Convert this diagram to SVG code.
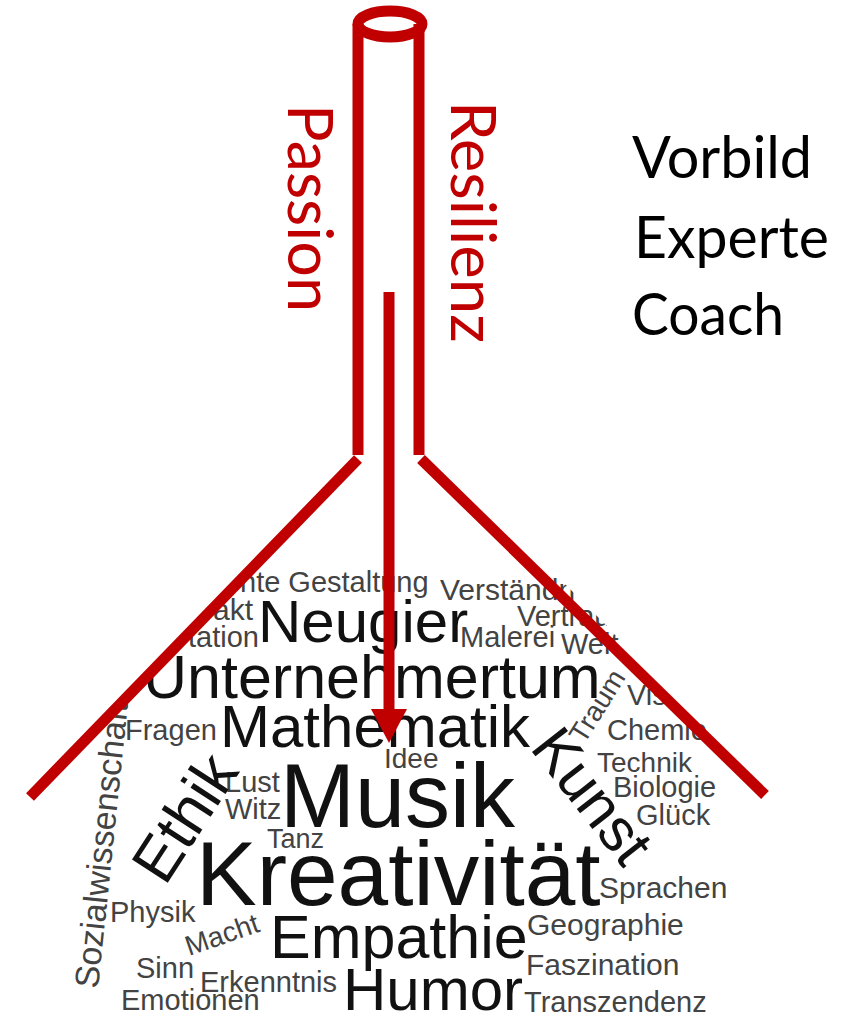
<svg xmlns="http://www.w3.org/2000/svg" width="851" height="1018" viewBox="0 0 851 1018">
<style>
  .red{stroke:#C00000;stroke-width:11;fill:none;stroke-linecap:butt}
  .lbl{font-family:Lato,'Open Sans',sans-serif;fill:#C00000;font-size:62px}
  .role{font-family:Lato,'Open Sans',sans-serif;fill:#000;font-size:58px}
  .g{font-family:'Liberation Sans',Arial,sans-serif;fill:#434343}
  .b{font-family:'Liberation Sans',Arial,sans-serif;fill:#111}
</style>
<defs>
  <clipPath id="cloudclip">
    <polygon points="364,455 436,455 781,800 851,800 851,1018 0,1018 0,800 36,800"/>
  </clipPath>
  <marker id="ah" markerUnits="userSpaceOnUse" viewBox="0 0 34 36" markerWidth="34" markerHeight="36" refX="2" refY="18" orient="auto">
    <path d="M0,0 L34,18 L0,36 Z" fill="#C00000"/>
  </marker>
</defs>
<rect width="851" height="1018" fill="#fff"/>

<g id="wordcloud" clip-path="url(#cloudclip)" font-size="29">
  <text class="g" x="240" y="592">nte Gestaltung</text>
  <text class="g" x="440" y="600" font-size="30">Verständn</text>
  <text class="g" x="213" y="620" font-size="30">akt</text>
  <text class="g" x="188" y="647">tation</text>
  <text class="g" x="517" y="626">Vertrau</text>
  <text class="g" x="460" y="647">Malerei</text>
  <text class="g" x="561" y="654">Welt</text>
  <text class="g" x="627" y="705">Vis</text>
  <text class="g" x="125" y="740">Fragen</text>
  <text class="g" x="607" y="740">Chemie</text>
  <text class="g" x="384" y="768" font-size="28">Idee</text>
  <text class="g" x="597" y="772" font-size="28">Technik</text>
  <text class="g" x="225" y="792">Lust</text>
  <text class="g" x="613" y="797">Biologie</text>
  <text class="g" x="225" y="819">Witz</text>
  <text class="g" x="636" y="825">Glück</text>
  <text class="g" x="267" y="848" font-size="27">Tanz</text>
  <text class="g" x="599" y="898" font-size="30">Sprachen</text>
  <text class="g" x="110" y="922">Physik</text>
  <text class="g" x="527" y="935" font-size="30">Geographie</text>
  <text class="g" x="136" y="978">Sinn</text>
  <text class="g" x="526" y="975" font-size="30">Faszination</text>
  <text class="g" x="200" y="992">Erkenntnis</text>
  <text class="g" x="121" y="1010">Emotionen</text>
  <text class="g" x="524" y="1012">Transzendenz</text>
  <text class="g" font-size="28" transform="translate(189,956) rotate(-19)">Macht</text>
  <text class="g" font-size="28" transform="translate(584,745) rotate(-58)">Traum</text>
  <text class="g" font-size="34" transform="translate(98,989) rotate(-84)">Sozialwissenschaft</text>

  <text class="b" x="258" y="642" font-size="60">Neugier</text>
  <text class="b" x="143" y="698" font-size="61">Unternehmertum</text>
  <text class="b" x="220" y="747" font-size="60">Mathematik</text>
  <text class="b" x="280" y="827" font-size="90">Musik</text>
  <text class="b" x="196" y="905" font-size="91">Kreativität</text>
  <text class="b" x="270" y="958" font-size="61">Empathie</text>
  <text class="b" x="343" y="1010" font-size="60">Humor</text>
  <text class="b" font-size="62" transform="translate(165,887) rotate(-57)">Ethik</text>
  <text class="b" font-size="60" transform="translate(529,748) rotate(52)">Kunst</text>
</g>

<g id="tube">
  <ellipse class="red" cx="390" cy="24" rx="32" ry="13"/>
  <line class="red" x1="358" y1="24" x2="358" y2="455"/>
  <line class="red" x1="419" y1="24" x2="419" y2="455"/>
  <line class="red" x1="358" y1="459" x2="30" y2="797"/>
  <line class="red" x1="421" y1="459" x2="765" y2="795"/>
</g>

<g id="passion">
  <text class="lbl" transform="translate(288,104) rotate(90)" textLength="208" lengthAdjust="spacingAndGlyphs">Passion</text>
</g>
<g id="resilienz">
  <text class="lbl" transform="translate(451,101) rotate(90)" textLength="242" lengthAdjust="spacingAndGlyphs">Resilienz</text>
</g>

<g id="roles">
  <text class="role" x="632" y="178" textLength="180" lengthAdjust="spacingAndGlyphs">Vorbild</text>
  <text class="role" x="634" y="258" textLength="195" lengthAdjust="spacingAndGlyphs">Experte</text>
  <text class="role" x="632" y="335" textLength="152" lengthAdjust="spacingAndGlyphs">Coach</text>
</g>

<g id="connectors">
  <line class="red" x1="389" y1="292" x2="389" y2="711" marker-end="url(#ah)"/>
</g>
</svg>
